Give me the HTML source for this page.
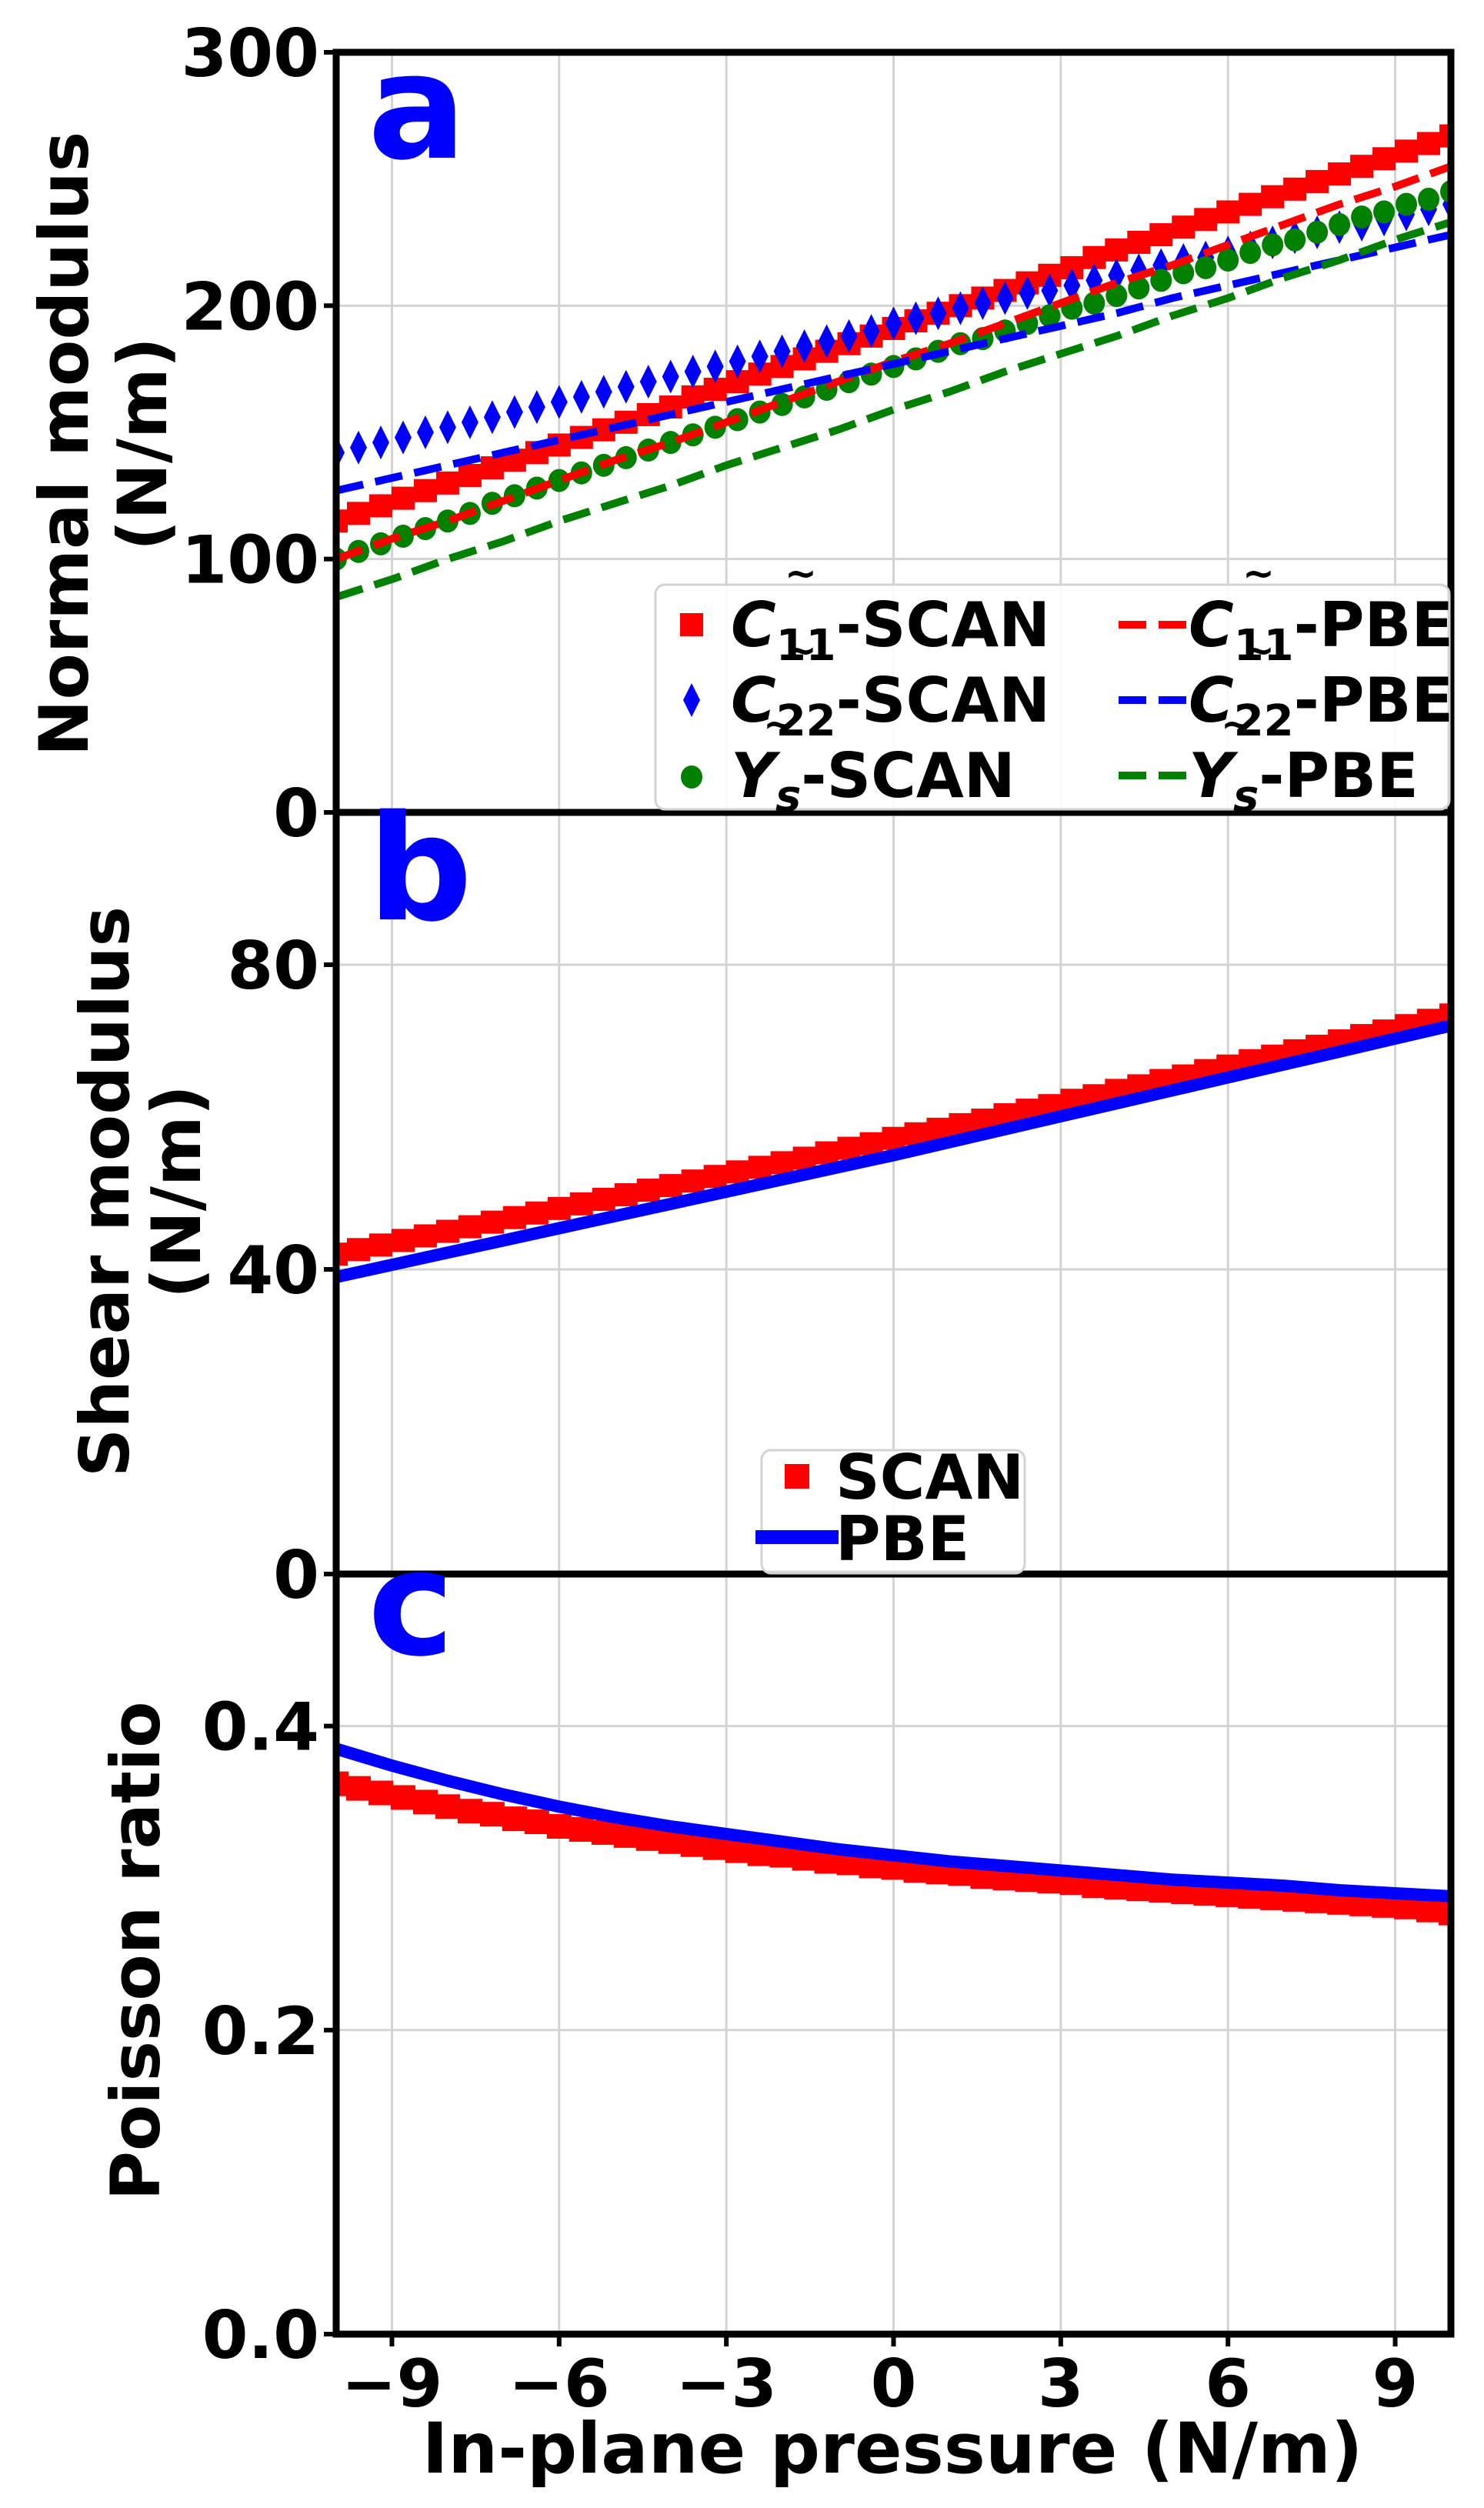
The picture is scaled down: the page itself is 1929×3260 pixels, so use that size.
<!DOCTYPE html>
<html><head><meta charset="utf-8"><style>
html,body{margin:0;padding:0;background:#fff;width:1929px;height:3260px;overflow:hidden}
svg{display:block;font-family:"DejaVu Sans","Liberation Sans",sans-serif;font-weight:bold}
</style></head><body>
<svg id="fig" width="1929" height="3260" viewBox="0 0 1929 3260" xmlns="http://www.w3.org/2000/svg"></svg>
<script>
// ---- data ----
const xTicks = [-9,-6,-3,0,3,6,9];
const xTickLabels = ["\u22129","\u22126","\u22123","0","3","6","9"];
const xScan = [-10,-9.6,-9.2,-8.8,-8.4,-8,-7.6,-7.2,-6.8,-6.4,-6,-5.6,-5.2,-4.8,-4.4,-4,-3.6,-3.2,-2.8,-2.4,-2,-1.6,-1.2,-0.8,-0.4,0,0.4,0.8,1.2,1.6,2,2.4,2.8,3.2,3.6,4,4.4,4.8,5.2,5.6,6,6.4,6.8,7.2,7.6,8,8.4,8.8,9.2,9.6,10];
const xPbe = [-10,-9,-8,-7,-6,-5,-4,-3,-2,-1,0,1,2,3,4,5,6,7,8,9,10];
const c11Scan = [115,118,121,124,127,130,133,136,139,142,145,148,151,154,157,160,164,167,170,173,176,179,182,185,188,191,194,197,200,203,206,209,212,215,219,222,225,228,231,234,237,240,243,246,249,252,255,258,261,264,267];
const c22Scan = [142,144,146,148,150,152,154,156,158,160,162,164,166,168,170,172,174,176,178,180,182,184,186,188,190,193,195,197,199,201,203,205,206,208,210,212,214,216,218,219,221,223,225,227,229,231,232,234,236,238,240];
const ysScan = [100,103,106,109,112,115,118,122,125,128,131,134,137,140,143,146,149,152,155,158,161,164,167,170,173,176,179,182,185,187,190,193,196,199,201,204,207,210,213,215,218,221,224,226,229,232,235,237,240,242,245];
const c11Pbe = [100,108,115,123,131,139,146,154,162,170,178,185,193,201,209,216,224,232,240,247,255];
const c22Pbe = [127,132,137,142,147,152,157,162,167,172,177,182,187,192,197,203,208,213,218,223,228];
const ysPbe = [85,92,100,107,115,122,129,137,144,151,159,166,174,181,188,196,203,211,218,226,233];
const shearScan = [42.0,42.6,43.2,43.8,44.4,45.0,45.6,46.2,46.8,47.4,48.0,48.6,49.2,49.8,50.4,51.0,51.6,52.2,52.8,53.4,54.0,54.6,55.3,55.9,56.5,57.2,57.8,58.4,59.0,59.6,60.3,60.9,61.5,62.2,62.8,63.5,64.1,64.8,65.4,66.1,66.7,67.4,68.0,68.7,69.3,70.0,70.7,71.3,72.0,72.7,73.4];
const shearPbe = [39.0,40.6,42.2,43.8,45.4,47.0,48.6,50.2,51.8,53.4,55.0,56.7,58.4,60.1,61.8,63.5,65.2,66.9,68.6,70.3,72.0];
const poisScan = [0.362,0.359,0.356,0.353,0.350,0.347,0.344,0.342,0.339,0.337,0.334,0.332,0.330,0.328,0.326,0.324,0.322,0.320,0.318,0.316,0.315,0.313,0.311,0.310,0.308,0.307,0.305,0.304,0.303,0.301,0.300,0.299,0.298,0.297,0.295,0.294,0.293,0.292,0.291,0.290,0.289,0.288,0.287,0.286,0.285,0.284,0.283,0.282,0.281,0.279,0.277];
const poisPbe = [0.385,0.374,0.364,0.355,0.347,0.340,0.334,0.329,0.324,0.319,0.315,0.311,0.308,0.305,0.302,0.299,0.297,0.295,0.292,0.290,0.288];

// ---- layout ----
const X0=437, X1=1886;
const panels=[{top:68,bot:1056,min:0,max:300},{top:1056,bot:2046,min:0,max:100},{top:2046,bot:3034,min:0,max:0.5}];
const NS="http://www.w3.org/2000/svg";
const svg=document.getElementById('fig');
function el(tag,attrs,parent){const e=document.createElementNS(NS,tag);for(const k in attrs)e.setAttribute(k,attrs[k]);(parent||svg).appendChild(e);return e;}
const xs=v=>X0+(v+10)/20*(X1-X0);
function ys(p,v){const P=panels[p];return P.bot-(v-P.min)/(P.max-P.min)*(P.bot-P.top);}

const yTicks=[[0,100,200,300],[0,40,80],[0.0,0.2,0.4]];
const yTickLabels=[["0","100","200","300"],["0","40","80"],["0.0","0.2","0.4"]];
panels.forEach((P,i)=>{
  const cp=el('clipPath',{id:'clip'+i});
  el('rect',{x:X0,y:P.top,width:X1-X0,height:P.bot-P.top},cp);
  const g=el('g',{});
  
  
  xTicks.forEach(t=>el('line',{x1:xs(t),x2:xs(t),y1:P.top,y2:P.bot,stroke:'#d3d3d3','stroke-width':3},g));
  yTicks[i].forEach(t=>el('line',{x1:X0,x2:X1,y1:ys(i,t),y2:ys(i,t),stroke:'#d3d3d3','stroke-width':3},g));
  const tg=el('g',{});
  
  
  yTicks[i].forEach((t,j)=>{
    el('line',{x1:X0-16,x2:X0,y1:ys(i,t),y2:ys(i,t),stroke:'#000','stroke-width':6},tg);
    const tx=el('text',{x:X0-22,y:ys(i,t)+31,'text-anchor':'end','font-size':86},tg);
    tx.textContent=yTickLabels[i][j];
  });
});

function line(p,xsArr,ysArr,color,w,dash,name){
  const d=xsArr.map((x,i)=>(i?'L':'M')+xs(x).toFixed(1)+' '+ys(p,ysArr[i]).toFixed(1)).join(' ');
  const e=el('path',{d:d,fill:'none',stroke:color,'stroke-width':w,'stroke-linejoin':'round','clip-path':'url(#clip'+p+')'});
  if(dash)e.setAttribute('stroke-dasharray',dash);
  
  
}
function markers(p,xsArr,ysArr,color,shape,name,sz){
  const g=el('g',{fill:color,'clip-path':'url(#clip'+p+')'});
  
  
  xsArr.forEach((x,i)=>{
    const cx=xs(x),cy=ys(p,ysArr[i]);
    if(shape==='s')el('rect',{x:cx-sz/2,y:cy-sz/2,width:sz,height:sz},g);
    else if(shape==='d')el('polygon',{points:`${cx},${cy-22} ${cx+11},${cy} ${cx},${cy+22} ${cx-11},${cy}`},g);
    else el('ellipse',{cx:cx,cy:cy,rx:14,ry:15},g);
  });
}
// panel a
markers(0,xScan,c11Scan,'#ff0000','s','c11-scan-series',30);
markers(0,xScan,c22Scan,'#0000ff','d','c22-scan-series');
markers(0,xScan,ysScan,'#008000','o','ys-scan-series');
line(0,xPbe,c11Pbe,'#ff0000',10,'36 16','c11-pbe-line');
line(0,xPbe,c22Pbe,'#0000ff',10,'36 16','c22-pbe-line');
line(0,xPbe,ysPbe,'#008000',10,'36 16','ys-pbe-line');
// panel b
markers(1,xScan,shearScan,'#ff0000','s','shear-scan-series',30);
line(1,xPbe,shearPbe,'#0000ff',16,null,'shear-pbe-line');
// panel c
markers(2,xScan,poisScan,'#ff0000','s','poisson-scan-series',32);
line(2,xPbe,poisPbe,'#0000ff',16,null,'poisson-pbe-line');

// x ticks
const xg=el('g',{});


xTicks.forEach((t,j)=>{
  el('line',{x1:xs(t),x2:xs(t),y1:3034,y2:3050,stroke:'#000','stroke-width':6},xg);
  const tx=el('text',{x:xs(t),y:3128,'text-anchor':'middle','font-size':86},xg);
  tx.textContent=xTickLabels[j];
});
// frames
panels.forEach((P,i)=>{
  const r=el('rect',{x:X0,y:P.top,width:X1-X0,height:P.bot-P.top,fill:'none',stroke:'#000','stroke-width':9});
  
  
});
</script>
<svg style="position:absolute;left:0;top:0" width="1929" height="3260" xmlns="http://www.w3.org/2000/svg" font-family="DejaVu Sans, Liberation Sans, sans-serif" font-weight="bold">
  <text x="478" y="205" font-size="190" fill="#0000ff">a</text>
  <text x="478" y="1195" font-size="190" fill="#0000ff">b</text>
  <text x="478" y="2150" font-size="190" fill="#0000ff">c</text>

  <text transform="translate(114,577) rotate(-90)" text-anchor="middle" font-size="88">Normal modulus</text>
  <text transform="translate(216,577) rotate(-90)" text-anchor="middle" font-size="88">(N/m)</text>
  <text transform="translate(167,1549) rotate(-90)" text-anchor="middle" font-size="88">Shear modulus</text>
  <text transform="translate(260,1549) rotate(-90)" text-anchor="middle" font-size="88">(N/m)</text>
  <text transform="translate(207,2536) rotate(-90)" text-anchor="middle" font-size="88">Poisson ratio</text>
  <text x="1160" y="3214" text-anchor="middle" font-size="91">In-plane pressure (N/m)</text>

  <g>
    <rect x="852" y="760" width="1032" height="292" rx="12" fill="#fff" fill-opacity="0.85" stroke="#d3d3d3" stroke-width="3"/>
    <g>
      <rect x="884" y="797" width="30" height="30" fill="#ff0000"/>
      <text x="950" y="840" font-size="80"><tspan font-style="italic">C</tspan><tspan font-size="56" dy="18">11</tspan><tspan dy="-18">-SCAN</tspan></text>
      <text x="1020" y="762" font-size="50">~</text>
    </g>
    <g>
      <polygon points="899,888 910,910 899,932 888,910" fill="#0000ff"/>
      <text x="950" y="938" font-size="80"><tspan font-style="italic">C</tspan><tspan font-size="56" dy="18">22</tspan><tspan dy="-18">-SCAN</tspan></text>
      <text x="1020" y="862" font-size="50">~</text>
    </g>
    <g>
      <ellipse cx="899" cy="1010" rx="14" ry="15" fill="#008000"/>
      <text x="950" y="1036" font-size="80"><tspan font-style="italic">Y</tspan><tspan font-size="56" dy="18" font-style="italic">s</tspan><tspan dy="-18">-SCAN</tspan></text>
      <text x="992" y="958" font-size="50">~</text>
    </g>
    <g>
      <line x1="1454" x2="1545" y1="812" y2="812" stroke="#ff0000" stroke-width="10" stroke-dasharray="36 16"/>
      <text x="1545" y="840" font-size="80"><tspan font-style="italic">C</tspan><tspan font-size="56" dy="18">11</tspan><tspan dy="-18">-PBE</tspan></text>
      <text x="1615" y="762" font-size="50">~</text>
    </g>
    <g>
      <line x1="1454" x2="1545" y1="910" y2="910" stroke="#0000ff" stroke-width="10" stroke-dasharray="36 16"/>
      <text x="1545" y="938" font-size="80"><tspan font-style="italic">C</tspan><tspan font-size="56" dy="18">22</tspan><tspan dy="-18">-PBE</tspan></text>
      <text x="1615" y="862" font-size="50">~</text>
    </g>
    <g>
      <line x1="1454" x2="1545" y1="1008" y2="1008" stroke="#008000" stroke-width="10" stroke-dasharray="36 16"/>
      <text x="1545" y="1036" font-size="80"><tspan font-style="italic">Y</tspan><tspan font-size="56" dy="18" font-style="italic">s</tspan><tspan dy="-18">-PBE</tspan></text>
      <text x="1587" y="958" font-size="50">~</text>
    </g>
  </g>

  <g>
    <rect x="990" y="1885" width="342" height="160" rx="12" fill="#fff" fill-opacity="0.85" stroke="#d3d3d3" stroke-width="3"/>
    <g>
      <rect x="1020" y="1903" width="32" height="32" fill="#ff0000"/>
      <text x="1086" y="1948" font-size="80">SCAN</text>
    </g>
    <g>
      <line x1="982" x2="1090" y1="1998" y2="1998" stroke="#0000ff" stroke-width="18"/>
      <text x="1086" y="2028" font-size="80">PBE</text>
    </g>
  </g>
</svg>
</body></html>
